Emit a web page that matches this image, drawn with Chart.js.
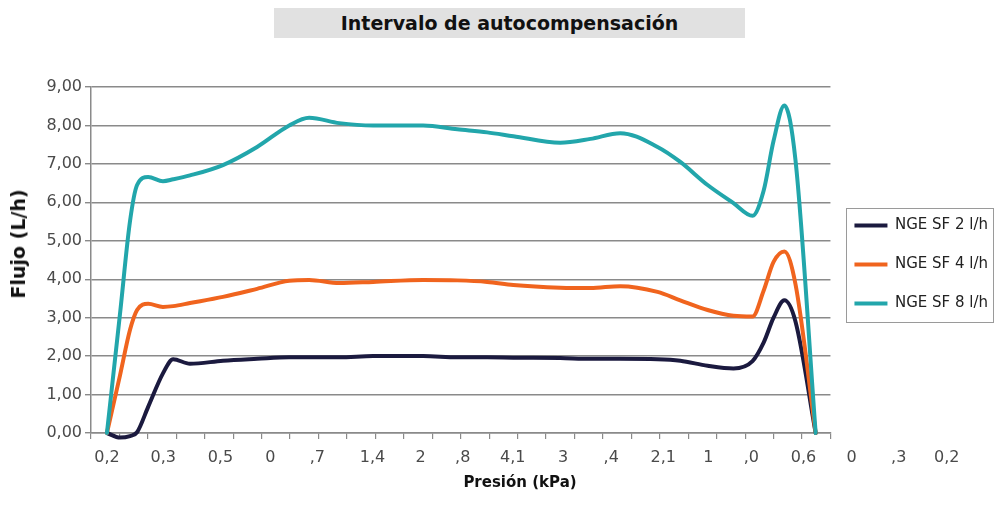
<!DOCTYPE html>
<html>
<head>
<meta charset="utf-8">
<script src="https://cdn.jsdelivr.net/npm/chart.js@4.4.1/dist/chart.umd.min.js"></script>
<style>
  html, body { margin: 0; padding: 0; background: #ffffff; }
  #wrap { position: relative; width: 998px; height: 523px; overflow: hidden; }
  #c { position: absolute; left: 0; top: 0; }
  #title { position: absolute; left: 274px; top: 8px; width: 471px; height: 30px; background: #e1e1e1;
           font: bold 19px "DejaVu Sans", sans-serif; color: #111; text-align: center; line-height: 30px; }
  #ytitle { position: absolute; left: 18px; top: 244px; transform: translate(-50%, -50%) rotate(-90deg);
            font: bold 19px "DejaVu Sans", sans-serif; color: #111; white-space: nowrap; }
  #xtitle { position: absolute; left: 520px; top: 482px; transform: translate(-50%, -50%);
            font: bold 15px "DejaVu Sans", sans-serif; color: #111; white-space: nowrap; }
</style>
</head>
<body>
<div id="wrap">
  <canvas id="c" width="998" height="523"></canvas>
  <div id="title">Intervalo de autocompensación</div>
  <div id="ytitle">Flujo (L/h)</div>
  <div id="xtitle">Presión (kPa)</div>
</div>
<script>
// ---- data (x in category-tick units along the pressure axis) ----
const xPos = [0.56, 1.02, 1.37, 1.62, 2.01, 2.53, 2.89, 3.48, 4.64, 5.84, 6.97, 7.67, 8.73, 9.92,
              11.68, 12.88, 13.93, 14.85, 16.50, 17.56, 18.61, 19.92, 20.72, 21.68, 22.59, 23.26,
              23.65, 24.00, 24.38, 24.77, 25.48];

const seriesNames = ['NGE SF 2 l/h', 'NGE SF 4 l/h', 'NGE SF 8 l/h'];

const flujo2 = [0, -0.12, -0.08, 0.02, 0.68, 1.55, 1.92, 1.80, 1.88, 1.93, 1.97, 1.97, 1.97, 2.00,
                2.00, 1.97, 1.97, 1.96, 1.95, 1.93, 1.93, 1.92, 1.88, 1.75, 1.68, 1.87,
                2.35, 3.00, 3.45, 2.90, 0];

const flujo4 = [0, 1.50, 2.68, 3.20, 3.36, 3.28, 3.30, 3.38, 3.54, 3.75, 3.96, 3.98, 3.90, 3.93,
                3.98, 3.97, 3.93, 3.85, 3.78, 3.77, 3.82, 3.67, 3.45, 3.20, 3.05, 3.03,
                3.70, 4.45, 4.72, 3.87, 0];

const flujo8 = [0, 3.10, 5.50, 6.45, 6.66, 6.55, 6.60, 6.70, 6.97, 7.44, 8.00, 8.20, 8.06, 8.00,
                8.00, 7.90, 7.82, 7.72, 7.55, 7.65, 7.80, 7.44, 7.05, 6.45, 5.98, 5.65,
                6.30, 7.60, 8.52, 7.10, 0];

const yTickValues = [0, 1, 2, 3, 4, 5, 6, 7, 8, 9];

const xTickLabels = ['0,2', '0,3', '0,5', '0', ',7', '1,4', '2', ',8', '4,1', '3', ',4', '2,1',
                     '1', ',0', '0,6', '0', ',3', '0,2'];
const xTickLabelPos = [0.56, 2.54, 4.55, 6.31, 7.96, 9.90, 11.59, 13.07, 14.83, 16.60, 18.29, 20.12,
                       21.71, 23.22, 25.05, 26.74, 28.40, 30.09];

// ---- styles ----
const colors = ['#1b1a3f', '#f0641e', '#22a6ab'];
const gridColor = '#8a8a8a';
const tickFont = { family: 'DejaVu Sans', size: 16 };

const toPoints = vals => vals.map((v, i) => ({ x: xPos[i], y: v }));

const legendBorder = {
  id: 'legendBorder',
  afterDraw(chart) {
    const hb = chart.legend && chart.legend.legendHitBoxes;
    if (!hb || !hb.length) return;
    const l = Math.min(...hb.map(h => h.left));
    const t = Math.min(...hb.map(h => h.top));
    const r = Math.max(...hb.map(h => h.left + h.width));
    const b = Math.max(...hb.map(h => h.top + h.height));
    const ctx = chart.ctx;
    ctx.save();
    ctx.strokeStyle = '#9a9a9a';
    ctx.lineWidth = 1;
    ctx.strokeRect(Math.round(l - 8) + 0.5, Math.round(t - 10) + 0.5, Math.round(r - l + 13), Math.round(b - t + 21));
    ctx.restore();
  }
};

new Chart(document.getElementById('c'), {
  type: 'line',
  data: {
    datasets: [
      { label: seriesNames[0], data: toPoints(flujo2), borderColor: colors[0], backgroundColor: colors[0], order: 3 },
      { label: seriesNames[1], data: toPoints(flujo4), borderColor: colors[1], backgroundColor: colors[1], order: 2 },
      { label: seriesNames[2], data: toPoints(flujo8), borderColor: colors[2], backgroundColor: colors[2], order: 1 }
    ]
  },
  options: {
    responsive: false,
    animation: false,
    layout: { padding: { top: 87, left: 0, right: 0, bottom: 0 } },
    datasets: { line: { clip: false } },
    elements: {
      line: { borderWidth: 4, cubicInterpolationMode: 'monotone', fill: false,
              borderCapStyle: 'round', borderJoinStyle: 'round' },
      point: { radius: 0, hoverRadius: 0 }
    },
    plugins: {
      tooltip: { enabled: false },
      legend: {
        position: 'right',
        fullSize: false,
        title: { display: true, text: ' ', padding: 0, font: { size: 9, lineHeight: 1 } },
        labels: {
          boxWidth: 33, boxHeight: 4, padding: 24, color: '#222',
          font: { family: 'DejaVu Sans', size: 15, lineHeight: 0.83 },
          sort: (a, b) => a.datasetIndex - b.datasetIndex,
          generateLabels: chart => Chart.defaults.plugins.legend.labels.generateLabels(chart)
                                     .map(l => Object.assign(l, { lineWidth: 0 }))
        }
      }
    },
    scales: {
      x: {
        type: 'linear', position: 'bottom', min: 0, max: 26, weight: 0,
        ticks: { display: false, stepSize: 1 },
        grid: { drawOnChartArea: false, color: gridColor, tickLength: 6, lineWidth: 1.2 },
        border: { color: gridColor, width: 1.5 },
        afterFit(s) { s.height = 6; s.paddingLeft = 0; s.paddingRight = 0; }
      },
      xl: {
        type: 'linear', position: 'bottom', min: 0, max: 26, weight: 1,
        grid: { display: false, drawTicks: false },
        border: { display: false },
        ticks: { autoSkip: false, maxRotation: 0, minRotation: 0, padding: 9, font: tickFont, color: '#4a4a4a',
                 callback: (v, i) => xTickLabels[i] },
        afterBuildTicks(s) { s.ticks = xTickLabelPos.map(v => ({ value: v })); },
        afterFit(s) { s.height = 84; s.paddingLeft = 0; s.paddingRight = 0; }
      },
      y: {
        min: 0, max: 9,
        afterBuildTicks(s) { s.ticks = yTickValues.map(v => ({ value: v })); },
        ticks: { padding: 3, font: tickFont, color: '#4a4a4a',
                 callback: v => v.toFixed(2).replace('.', ',') },
        grid: { color: gridColor, lineWidth: 1.4, tickLength: 6 },
        border: { color: gridColor, width: 1.5 },
        afterFit(s) { s.width = 91; }
      }
    }
  },
  plugins: [legendBorder]
});
</script>
</body>
</html>
